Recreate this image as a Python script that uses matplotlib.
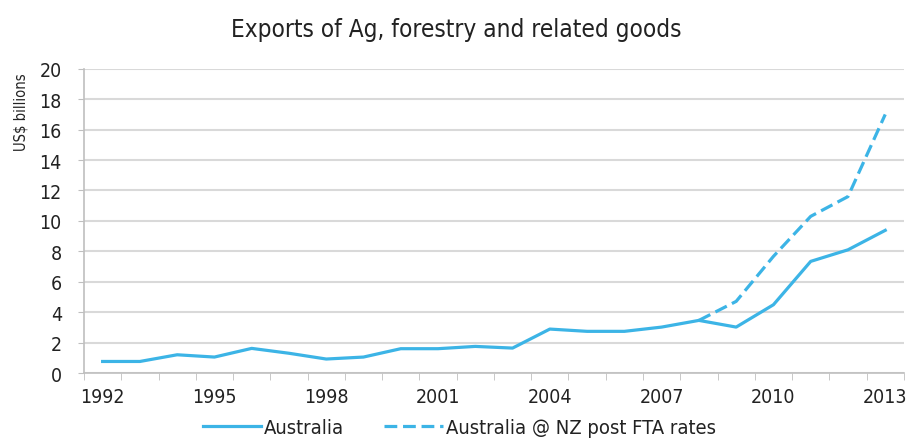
import numpy as np
import matplotlib
matplotlib.use("Agg")
import matplotlib.pyplot as plt

# data
years = list(range(1992, 2014))
australia = [0.76, 0.76, 1.2, 1.05, 1.62, 1.3, 0.92, 1.05, 1.6, 1.6, 1.75,
             1.64, 2.89, 2.74, 2.74, 3.02, 3.46, 3.02, 4.49, 7.34, 8.1, 9.38]
nz_fta = [np.nan] * 16 + [3.46, 4.71, 7.67, 10.3, 11.6, 17.0]
tick_years = [1992, 1995, 1998, 2001, 2004, 2007, 2010, 2013]

blue = "#3cb4e6"
plt.rcParams["font.family"] = "DejaVu Sans"
plt.rcParams["font.stretch"] = "condensed"
plt.rcParams["text.color"] = "#222222"

fig = plt.figure(figsize=(9.13, 4.39), dpi=100)
ax = fig.add_axes([0.092, 0.148, 0.898, 0.693])

x = np.arange(len(years))
ax.plot(x, australia, color=blue, lw=2.3, label="Australia", zorder=3)
ax.plot(x, nz_fta, color=blue, lw=2.3, ls=(0, (4, 1.8)),
        label="Australia @ NZ post FTA rates", zorder=3)

ax.set_xlim(-0.5, len(years) - 0.5)
ax.set_ylim(0, 20)
ax.set_yticks(range(0, 21, 2))
ax.set_xticks([years.index(y) for y in tick_years])
ax.set_xticklabels([str(y) for y in tick_years])
ax.set_xticks(np.arange(-0.5, len(years), 1), minor=True)
ax.tick_params(axis="x", which="major", length=0, pad=10, labelsize=14,
               labelcolor="#222222")
ax.tick_params(axis="x", which="minor", length=5, color="#bfbfbf")
ax.tick_params(axis="y", length=4, color="#bfbfbf", pad=12, labelsize=14,
               labelcolor="#222222")

ax.grid(axis="y", color="#d9d9d9", lw=1.5)
ax.set_axisbelow(True)
for s in ["top", "right"]:
    ax.spines[s].set_visible(False)
for s in ["left", "bottom"]:
    ax.spines[s].set_color("#bfbfbf")
    ax.spines[s].set_linewidth(1.2)

ax.set_ylabel("US$ billions", fontsize=10.5, color="#222222")
ax.yaxis.set_label_coords(-0.068, 0.86)
fig.suptitle("Exports of Ag, forestry and related goods", fontsize=17.5,
             y=0.96, color="#222222")

fig.legend(loc="lower center", bbox_to_anchor=(0.503, -0.04), ncol=2,
           frameon=False, fontsize=14.5, handlelength=2.9, columnspacing=2.0,
           handletextpad=0.15)

fig.savefig("out.png", dpi=100)
